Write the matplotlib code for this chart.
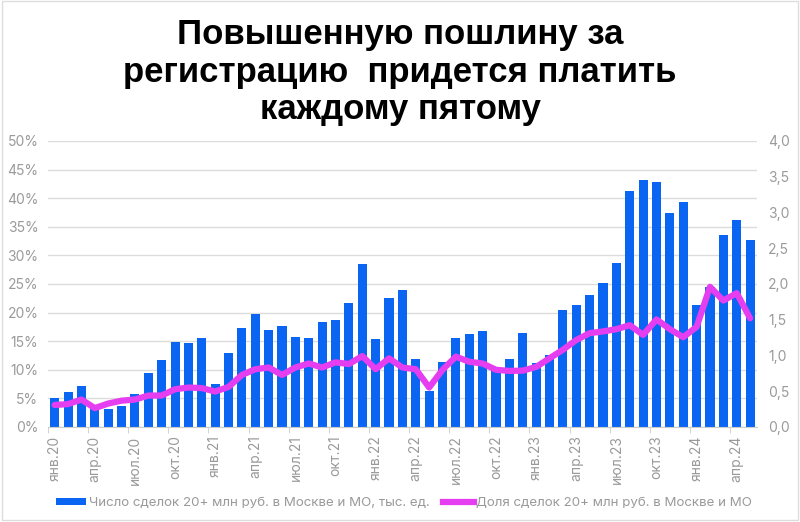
import matplotlib
matplotlib.use("Agg")
import matplotlib.pyplot as plt
from matplotlib.patches import Patch, Rectangle
from matplotlib.lines import Line2D
from matplotlib.ticker import FuncFormatter
import numpy as np

# monthly data, Jan 2020 - May 2024
months = [f"{m}.{y}" for y in range(20, 25) for m in
          ["янв", "фев", "мар", "апр", "май", "июн", "июл", "авг", "сен", "окт", "ноя", "дек"]][:53]

# number of deals 20+ mln rub, thousand units (right axis)
deals = [0.40, 0.49, 0.57, 0.27, 0.25, 0.29, 0.46, 0.76, 0.93, 1.19, 1.18, 1.25,
         0.60, 1.04, 1.38, 1.58, 1.35, 1.41, 1.26, 1.25, 1.47, 1.50, 1.74, 2.28,
         1.23, 1.81, 1.91, 0.95, 0.50, 0.91, 1.24, 1.30, 1.34, 0.78, 0.95, 1.32,
         0.90, 1.00, 1.63, 1.71, 1.85, 2.01, 2.29, 3.30, 3.45, 3.42, 2.99, 3.14,
         1.71, 1.96, 2.68, 2.90, 2.62]

# share of deals 20+ mln rub, % (left axis)
share = [3.85, 4.0, 4.8, 3.3, 4.1, 4.6, 4.8, 5.5, 5.5, 6.6, 6.9, 6.8,
         6.2, 7.0, 9.1, 10.1, 10.4, 9.1, 10.4, 11.1, 10.4, 11.3, 11.0, 12.4,
         10.1, 12.0, 10.4, 10.1, 6.9, 10.0, 12.3, 11.4, 11.1, 10.0, 9.8, 9.85,
         10.5, 12.0, 13.5, 15.2, 16.4, 16.7, 17.1, 17.8, 16.1, 18.8, 17.1, 15.7,
         17.5, 24.5, 22.1, 23.4, 19.0]

bar_label = "Число сделок 20+ млн руб. в Москве и МО, тыс. ед."
line_label = "Доля сделок 20+ млн руб. в Москве и МО"
title = "Повышенную пошлину за\nрегистрацию  придется платить\nкаждому пятому"

BLUE = "#0a66f2"
MAGENTA = "#e53ef0"
GREY = "#9a9a9a"

plt.rcParams["font.family"] = ["Inter", "DejaVu Sans"]

fig = plt.figure(figsize=(8, 5.22), dpi=100)
ax = fig.add_axes([0.06, 0.182, 0.886, 0.548])
ax2 = ax.twinx()

x = np.arange(len(deals))

# gridlines every 5% of the left axis, drawn behind the bars
for g in np.arange(0, 51, 5):
    ax2.axhline(g / 12.5, color="#dcdcdc", linewidth=1, zorder=0)

# bars on the right axis, drawn below the share line
ax2.bar(x, deals, width=0.68, color=BLUE, zorder=2)
ax2.set_ylim(0, 4)
ax2.set_yticks(np.arange(0, 4.01, 0.5))
ax2.yaxis.set_major_formatter(FuncFormatter(lambda v, p: f"{v:.1f}".replace(".", ",")))
ax2.tick_params(axis="y", length=0, labelsize=10, labelcolor=GREY, pad=8)

ax.set_zorder(ax2.get_zorder() + 1)
ax.patch.set_visible(False)
ax.plot(x, share, color=MAGENTA, linewidth=4.5, solid_joinstyle="round",
        solid_capstyle="round", zorder=3)
ax.set_ylim(0, 50)
ax.set_yticks(np.arange(0, 51, 5))
ax.yaxis.set_major_formatter(FuncFormatter(lambda v, p: f"{v:.0f}%"))
ax.tick_params(axis="y", length=0, labelsize=10, labelcolor=GREY, pad=7)

ax.set_xlim(-0.5, len(deals) - 0.5)
ax.set_xticks(x[::3])
ax.set_xticklabels(months[::3], rotation=90)
ax.set_xticks(np.arange(-0.5, len(deals), 3), minor=True)
ax.tick_params(axis="x", which="major", length=0, labelsize=10, labelcolor=GREY, pad=6)
ax.tick_params(axis="x", which="minor", length=4, color="#cccccc")

for a in (ax, ax2):
    for s in a.spines.values():
        s.set_visible(False)
ax.spines["bottom"].set_visible(True)
ax.spines["bottom"].set_color("#cccccc")

handles = [Patch(facecolor=BLUE, label=bar_label),
           Line2D([0], [0], color=MAGENTA, linewidth=4.5, label=line_label)]
fig.legend(handles=handles, loc="center", bbox_to_anchor=(0.505, 0.036), ncol=2,
           frameon=False, fontsize=9.6, labelcolor=GREY, handlelength=2.3,
           handleheight=0.5, handletextpad=0.2, columnspacing=1.0)

fig.text(0.5, 0.862, title, ha="center", va="center", fontsize=25, fontweight="bold",
         family=["Liberation Sans", "DejaVu Sans"], linespacing=1.17, color="black")

# light frame around the picture
fig.patches.append(Rectangle((0.002, 0.004), 0.996, 0.994, transform=fig.transFigure,
                             fill=False, edgecolor="#dddddd", linewidth=1))

fig.savefig("out.png", dpi=100)
